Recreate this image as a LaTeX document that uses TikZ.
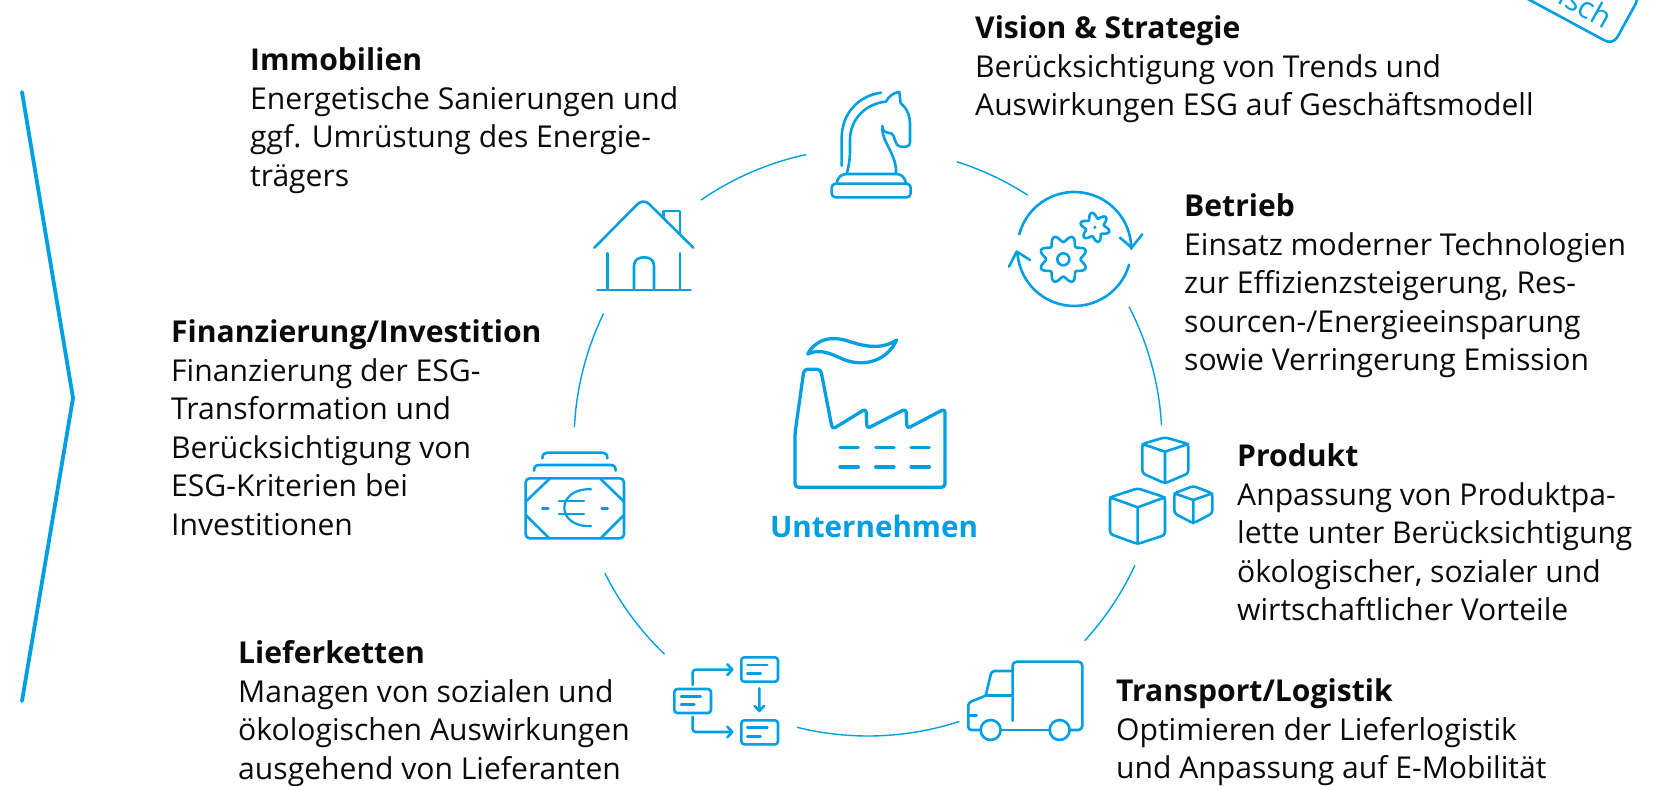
\documentclass[tikz,border=0pt]{standalone}
\usepackage{fontspec}
\setmainfont{Open Sans}
\definecolor{brand}{HTML}{009FE3}
\definecolor{ink}{HTML}{0A0A0A}
\tikzset{
  tb/.style={anchor=north west,inner sep=0pt,align=left,text=ink,font=\fontsize{30.1}{38.55}\selectfont},
  ring/.style={draw=brand,line width=1.4pt},
  icon/.style={draw=brand,line width=2.6pt,line cap=round,line join=round},
  heavy icon/.style={draw=brand,line width=3.3pt,line cap=round,line join=round},
  thin icon/.style={draw=brand,line width=2.2pt,line cap=round,line join=round},
}
\newcommand{\tblock}[5]{\node[tb] (#1) at (#2,{#3-27.5}) {\rule{0pt}{29pt}\textbf{#4}\\#5};}
\newcommand{\ringarc}[2]{\draw[ring] (868,442) ++(#1:294) arc[start angle=#1,end angle=#2,radius=294];}
\begin{document}
\begin{tikzpicture}[x=1pt,y=-1pt]
\useasboundingbox (0,0) rectangle (1665,786);
\clip (0,0) rectangle (1665,786);
% chevron
\coordinate (chevA) at (22,92);\coordinate (chevB) at (73,398);\coordinate (chevC) at (22,701);
\draw[brand,line width=3.8pt,line cap=round] (chevA) -- (chevB) -- (chevC);
% stamp
\draw[brand,line width=2.6pt,rounded corners=9pt] (1500,-16) -- (1613,45) -- (1640,-4) -- (1500,-80);
\node[rotate=-29,text=brand,inner sep=0pt,font=\fontsize{30}{32}\selectfont] (stamp) at (1586,6) {isch};
% ring
\ringarc{-72.4}{-57.1}
\ringarc{-27.4}{-3.3}
\ringarc{24.8}{42.5}
\ringarc{71.9}{104}
\ringarc{133.8}{153.5}
\ringarc{182.9}{205.9}
\ringarc{235.4}{257.9}
% knight
\begin{scope}[shift={(780,70)},x=.3333pt,y=-.3333pt]
\draw[icon] (303,68) .. controls (235,78) and (185,130) .. (185,205) -- (185,287);
\draw[icon] (200,312) .. controls (212,270) and (210,240) .. (210,210) .. controls (210,145) and (260,100) .. (318,95) .. controls (325,80) and (340,68) .. (358,66) -- (362,100) .. controls (382,115) and (390,140) .. (390,160) -- (390,218) .. controls (390,230) and (375,232) .. (362,230) .. controls (340,226) and (348,195) .. (333,190) .. controls (318,188) and (307,185) .. (307,168);
\draw[icon] (307,175) .. controls (305,215) and (352,255) .. (348,312);
\draw[icon] (170,340) .. controls (172,322) and (185,312) .. (200,312) -- (350,312) .. controls (365,312) and (376,325) .. (378,340);
\draw[icon,rounded corners=4pt] (155,341) rectangle (392,382);
% cycle
\draw[icon] (883,537) ++(195:171) arc[start angle=195,end angle=360,radius=171];
\draw[icon] (883,537) ++(16:171) arc[start angle=16,end angle=177,radius=171];
\draw[icon] (1020,503) -- (1055,533) -- (1087,493);
\draw[icon] (750,570) -- (710,545) -- (687,590);
\draw[icon] plot[domain=0:360,samples=145,smooth] ({850+(62+10*cos(8*(\x+67.5)))*cos(\x)},{568+(62+10*cos(8*(\x+67.5)))*sin(\x)}) -- cycle;
\draw[icon] (850,568) circle[radius=18];
\draw[icon] plot[domain=0:360,samples=121,smooth] ({945+(36+8.5*cos(6*(\x+103)))*cos(\x)},{472+(36+8.5*cos(6*(\x+103)))*sin(\x)}) -- cycle;
\fill[brand] (945,472) circle[radius=5];
\end{scope}
% house
\begin{scope}[shift={(560,180)},x=.3333pt,y=-.3333pt]
\draw[icon,rounded corners=8pt] (103,203) -- (250,55) -- (400,203);
\draw[icon] (310,115) -- (310,93) -- (360,93) -- (360,162);
\draw[icon] (143,220) -- (143,330) (360,220) -- (360,330) (112,330) -- (392,330);
\draw[icon] (222,330) -- (222,258) .. controls (222,240) and (235,232) .. (252,232) .. controls (270,232) and (282,240) .. (282,258) -- (282,330);
\end{scope}
% factory
\begin{scope}[shift={(760,320)},x=.3333pt,y=-.3333pt]
\draw[heavy icon,rounded corners=3.5pt] (105,340) -- (132,148) -- (182,148) -- (217,328) -- (318,266) -- (321,326) -- (438,266) -- (441,326) -- (555,266) -- (555,502) -- (105,502) -- cycle;
\foreach \yy in {383,441}{
  \draw[heavy icon] (240,\yy) -- (295,\yy) (347,\yy) -- (402,\yy) (453,\yy) -- (508,\yy);
}
\draw[heavy icon] (143,102) .. controls (170,55) and (215,48) .. (260,62) .. controls (310,78) and (360,92) .. (410,60) .. controls (380,125) and (310,142) .. (250,118) .. controls (210,100) and (180,85) .. (143,102) -- cycle;
\end{scope}
\node[text=brand,inner sep=0pt,anchor=base,font=\fontsize{29.6}{32}\selectfont\bfseries] (centre) at (874,537) {Unternehmen};
% money
\begin{scope}[shift={(510,430)},x=.3333pt,y=-.3333pt]
\draw[icon,rounded corners=4pt] (47,145) rectangle (342,325);
\draw[icon] (72,122) .. controls (72,110) and (78,105) .. (88,105) -- (302,105) .. controls (312,105) and (317,110) .. (317,122);
\draw[icon] (97,85) .. controls (97,73) and (103,68) .. (112,68) -- (278,68) .. controls (287,68) and (292,73) .. (292,85);
\draw[icon] (118,147) -- (47,215) (272,147) -- (342,215) (47,255) -- (118,325) (342,255) -- (272,325);
\draw[icon] (97,235) -- (115,235) (275,235) -- (293,235);
\draw[thin icon] (243,178) .. controls (190,175) and (163,205) .. (163,233) .. controls (163,262) and (190,291) .. (243,288);
\draw[thin icon] (147,214) -- (222,214) (147,252) -- (222,252);
\end{scope}
% cubes
\begin{scope}[shift={(1090,420)},x=.3333pt,y=-.3333pt]
\draw[icon,rounded corners=3pt] (157,72) -- (225,52) -- (295,72) -- (295,160) -- (225,190) -- (157,160) -- cycle;
\draw[icon] (157,72) -- (225,95) -- (295,72) (225,95) -- (225,190);
\draw[icon,rounded corners=3pt] (60,232) -- (143,205) -- (225,232) -- (225,345) -- (143,372) -- (60,342) -- cycle;
\draw[icon] (60,232) -- (143,262) -- (225,232) (143,262) -- (143,372);
\draw[icon,rounded corners=3pt] (253,220) -- (310,198) -- (367,220) -- (367,280) -- (310,310) -- (253,280) -- cycle;
\draw[icon] (253,220) -- (310,240) -- (367,220) (310,240) -- (310,310);
\end{scope}
% supply chain and truck
\begin{scope}[shift={(660,640)},x=.3333pt,y=-.3333pt]
\draw[icon,rounded corners=3pt] (43,147) rectangle (153,219);
\draw[icon] (63,170) -- (122,170) (63,194) -- (103,194);
\draw[icon,rounded corners=3pt] (244,52) rectangle (354,125);
\draw[icon] (262,75) -- (322,75) (262,101) -- (302,101);
\draw[icon,rounded corners=3pt] (244,241) rectangle (354,313);
\draw[icon] (262,263) -- (322,263) (262,289) -- (302,289);
\draw[icon,rounded corners=3pt] (98,135) -- (98,89) -- (215,89);
\draw[icon] (202,73) -- (217,89) -- (202,105);
\draw[icon,rounded corners=3pt] (98,230) -- (98,276) -- (215,276);
\draw[icon] (202,260) -- (217,276) -- (202,292);
\draw[icon] (298,145) -- (298,212) (284,198) -- (298,213) -- (312,198);
\draw[icon,rounded corners=4pt] (1058,242) -- (1058,65) -- (1267,65) -- (1267,270) -- (1230,270);
\draw[icon] (1170,270) -- (1023,270);
\draw[icon] (992,270) circle[radius=30] (1199,270) circle[radius=30];
\draw[icon,rounded corners=3pt] (1058,93) -- (995,93) -- (977,167);
\draw[icon] (1058,167) -- (977,167);
\draw[icon,rounded corners=3pt] (977,167) -- (925,188) -- (925,270) -- (962,270);
\draw[icon] (925,227) -- (950,227);
\end{scope}
% texts
\tblock{immo}{250}{69}{Immobilien}{Energetische Sanierungen und\\ggf. Umrüstung des Energie-\\trägers}
\tblock{vision}{975}{37}{Vision \& Strategie}{Berücksichtigung von Trends und\\Auswirkungen ESG auf Geschäftsmodell}
\tblock{betrieb}{1184}{215}{Betrieb}{Einsatz moderner Technologien\\zur Effizienzsteigerung, Res-\\sourcen-/Energieeinsparung\\sowie Verringerung Emission}
\tblock{fin}{171}{341}{Finanzierung/Investition}{Finanzierung der ESG-\\Transformation und\\Berücksichtigung von\\ESG-Kriterien bei\\Investitionen}
\tblock{produkt}{1237}{465}{Produkt}{Anpassung von Produktpa-\\lette unter Berücksichtigung\\ökologischer, sozialer und\\wirtschaftlicher Vorteile}
\tblock{liefer}{238}{662}{Lieferketten}{Managen von sozialen und\\ökologischen Auswirkungen\\ausgehend von Lieferanten}
\tblock{trans}{1116}{700}{Transport/Logistik}{Optimieren der Lieferlogistik\\und Anpassung auf E-Mobilität}
\end{tikzpicture}
\end{document}
